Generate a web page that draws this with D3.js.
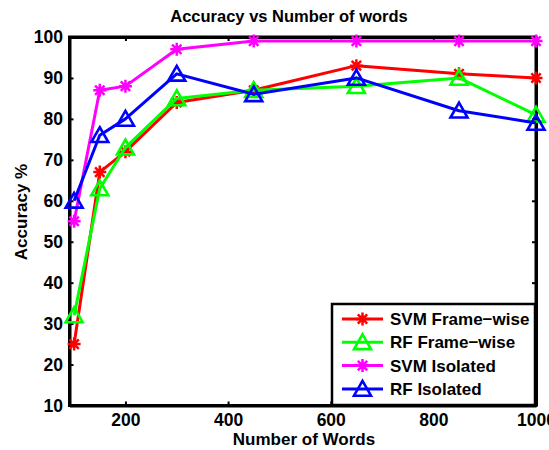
<!DOCTYPE html>
<html>
<head>
<meta charset="utf-8">
<script src="https://cdn.jsdelivr.net/npm/d3@7"></script>
<style>
  html, body { margin: 0; padding: 0; background: #fff; }
  svg { display: block; font-family: "Liberation Sans", Arial, sans-serif; font-weight: bold; }
</style>
</head>
<body>
<svg id="chart" width="549" height="450"></svg>
<script>
// Number of words used in each experiment
const words = [100, 150, 200, 300, 450, 650, 850, 1000];

// Accuracy (%) per method
const svmFrameWise = [25, 67, 72, 84, 87, 93, 91, 90];
const rfFrameWise  = [32, 63, 73, 85, 87, 88, 90, 81];
const svmIsolated  = [55, 87, 88, 97, 99, 99, 99, 99];
const rfIsolated   = [60, 76, 80, 91, 86, 90, 82, 79];

const seriesNames  = ["SVM Frame\u2212wise", "RF Frame\u2212wise", "SVM Isolated", "RF Isolated"];
const seriesColors = ["#ff0000", "#00ff00", "#ff00ff", "#0000ff"];
const seriesMarks  = ["star", "triangle", "star", "triangle"];

const xTicks = [200, 400, 600, 800, 1000];
const yTicks = [10, 20, 30, 40, 50, 60, 70, 80, 90, 100];

const series = [svmFrameWise, rfFrameWise, svmIsolated, rfIsolated].map((vals, i) => ({
  name: seriesNames[i], color: seriesColors[i], mark: seriesMarks[i],
  points: vals.map((v, j) => ({ x: words[j], y: v }))
}));

const svg = d3.select("#chart");
const plotLeft = 69.5, plotRight = 536, plotTop = 37, plotBottom = 405.5;

const x = d3.scaleLinear().domain([91, 1000]).range([plotLeft, plotRight]);
const y = d3.scaleLinear().domain([10, 100]).range([plotBottom, plotTop]);

// Title
svg.append("text")
  .attr("x", 289).attr("y", 22)
  .attr("text-anchor", "middle")
  .attr("font-size", 16.5)
  .text("Accuracy vs Number of words");

// Axes with inward ticks
const gx = svg.append("g").attr("transform", `translate(0,${plotBottom})`)
  .call(d3.axisBottom(x).tickValues(xTicks).tickSizeInner(-4).tickSizeOuter(0).tickPadding(12).tickFormat(d3.format("d")));
const gxTop = svg.append("g").attr("transform", `translate(0,${plotTop})`)
  .call(d3.axisTop(x).tickValues(xTicks).tickSizeInner(-4).tickSizeOuter(0).tickFormat(""));
const gy = svg.append("g").attr("transform", `translate(${plotLeft},0)`)
  .call(d3.axisLeft(y).tickValues(yTicks).tickSizeInner(-4).tickSizeOuter(0).tickPadding(6.5).tickFormat(d3.format("d")));
const gyRight = svg.append("g").attr("transform", `translate(${plotRight},0)`)
  .call(d3.axisRight(y).tickValues(yTicks).tickSizeInner(-4).tickSizeOuter(0).tickFormat(""));

[gx, gxTop, gy, gyRight].forEach(g => {
  g.select(".domain").attr("stroke", "#000").attr("stroke-width", 3);
  g.selectAll(".tick line").attr("stroke", "#000").attr("stroke-width", 2);
  g.selectAll(".tick text").attr("fill", "#000").attr("font-size", 17.5)
    .attr("font-family", "'Liberation Sans', Arial, sans-serif").attr("font-weight", "bold");
});
gx.selectAll(".tick text").attr("dy", "0.5em");

// Closed frame around the plot area
svg.append("rect")
  .attr("x", plotLeft).attr("y", plotTop).attr("width", plotRight - plotLeft).attr("height", plotBottom - plotTop)
  .attr("fill", "none").attr("stroke", "#000").attr("stroke-width", 3);

// Axis labels
svg.append("text")
  .attr("x", 304).attr("y", 445)
  .attr("text-anchor", "middle").attr("font-size", 17)
  .text("Number of Words");
svg.append("text")
  .attr("transform", "translate(27,212) rotate(-90)")
  .attr("text-anchor", "middle").attr("font-size", 17)
  .text("Accuracy %");

// Marker drawing helpers
function drawMarker(g, kind, color, cx, cy) {
  if (kind === "star") {
    const r = 6.5, d = r * 0.72;
    const p = `M${cx - r},${cy}L${cx + r},${cy}M${cx},${cy - r}L${cx},${cy + r}` +
              `M${cx - d},${cy - d}L${cx + d},${cy + d}M${cx - d},${cy + d}L${cx + d},${cy - d}`;
    g.append("path").attr("d", p).attr("stroke", color).attr("stroke-width", 2.5).attr("fill", "none");
  } else {
    const w = 8.5, h = 8;
    const p = `M${cx},${cy - h}L${cx + w},${cy + h * 0.85}L${cx - w},${cy + h * 0.85}Z`;
    g.append("path").attr("d", p).attr("stroke", color).attr("stroke-width", 2.6).attr("fill", "none");
  }
}

const line = d3.line().x(d => x(d.x)).y(d => y(d.y));

series.forEach(s => {
  const g = svg.append("g");
  g.append("path").datum(s.points)
    .attr("d", line).attr("fill", "none")
    .attr("stroke", s.color).attr("stroke-width", 3).attr("stroke-linejoin", "round");
  s.points.forEach(p => drawMarker(g, s.mark, s.color, x(p.x), y(p.y)));
});

// Legend
const lg = svg.append("g");
const lx = 332, ly = 304, lw = 203, lh = 101;
lg.append("rect").attr("x", lx).attr("y", ly).attr("width", lw).attr("height", lh)
  .attr("fill", "#fff").attr("stroke", "#000").attr("stroke-width", 2.5);
series.forEach((s, i) => {
  const yy = 319 + i * 23.3;
  lg.append("line").attr("x1", 342).attr("x2", 383).attr("y1", yy).attr("y2", yy)
    .attr("stroke", s.color).attr("stroke-width", 3);
  drawMarker(lg, s.mark, s.color, 362.5, yy);
  lg.append("text").attr("x", 390).attr("y", yy).attr("dy", "0.36em")
    .attr("font-size", 17).text(s.name);
});
</script>
</body>
</html>
